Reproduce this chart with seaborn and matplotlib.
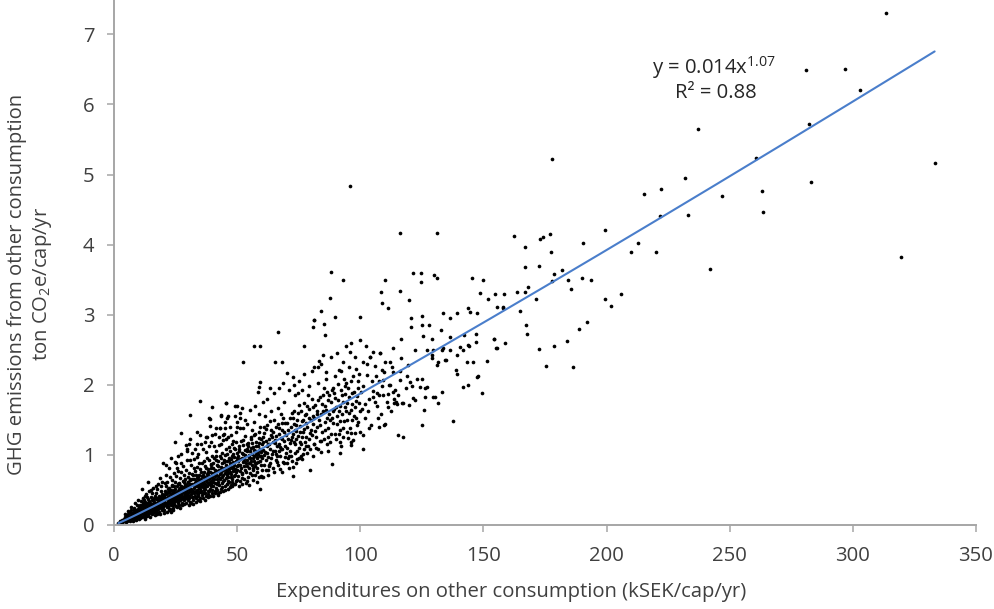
import numpy as np
import pandas as pd
import matplotlib
matplotlib.use("Agg")
import matplotlib.pyplot as plt
import seaborn as sns

# Points: (expenditure kSEK/cap/yr, emissions ton CO2e/cap/yr)
# dense cloud, grouped by expenditure band
band_00_10 = [
    (1.8, 0.03), (2.2, 0.02), (2.5, 0.05), (2.9, 0.04), (3.1, 0.07), (3.4, 0.03), (3.6, 0.06), (3.9, 0.09), (4.1, 0.05), (4.3, 0.11),
    (4.6, 0.07), (4.8, 0.04), (5.0, 0.09), (5.2, 0.13), (5.4, 0.06), (5.6, 0.10), (5.8, 0.15), (6.0, 0.08), (6.1, 0.12), (6.3, 0.18),
    (6.5, 0.07), (6.6, 0.11), (6.8, 0.14), (7.0, 0.09), (7.1, 0.21), (7.3, 0.12), (7.5, 0.16), (7.6, 0.08), (7.8, 0.13), (8.0, 0.19),
    (8.1, 0.10), (8.3, 0.24), (8.4, 0.15), (8.6, 0.12), (8.8, 0.17), (8.9, 0.09), (9.1, 0.21), (9.2, 0.14), (9.4, 0.28), (9.5, 0.11),
    (9.7, 0.18), (9.8, 0.15), (9.9, 0.23), (6.9, 0.26), (5.5, 0.20), (4.4, 0.16), (8.5, 0.31), (9.6, 0.36), (7.9, 0.05), (9.0, 0.07),
    (5.35, 0.11), (6.45, 0.05), (7.25, 0.17), (8.15, 0.22), (8.95, 0.13), (9.35, 0.19),
]
band_10_20 = [
    (10.1, 0.13), (10.2, 0.21), (10.4, 0.17), (10.5, 0.29), (10.6, 0.10), (10.8, 0.19), (10.9, 0.24), (11.0, 0.15), (11.1, 0.34), (11.3, 0.20),
    (11.4, 0.12), (11.5, 0.26), (11.7, 0.18), (11.8, 0.39), (11.9, 0.22), (12.0, 0.14), (12.1, 0.29), (12.3, 0.19), (12.4, 0.25), (12.5, 0.11),
    (12.6, 0.33), (12.8, 0.21), (12.9, 0.16), (13.0, 0.27), (13.1, 0.44), (13.3, 0.23), (13.4, 0.18), (13.5, 0.31), (13.7, 0.14), (13.8, 0.25),
    (13.9, 0.37), (14.0, 0.21), (14.2, 0.28), (14.3, 0.17), (14.4, 0.48), (14.5, 0.24), (14.7, 0.32), (14.8, 0.19), (14.9, 0.27), (15.0, 0.40),
    (15.1, 0.22), (15.3, 0.15), (15.4, 0.30), (15.5, 0.25), (15.7, 0.36), (15.8, 0.20), (15.9, 0.53), (16.0, 0.28), (16.1, 0.23), (16.3, 0.33),
    (16.4, 0.18), (16.5, 0.41), (16.7, 0.26), (16.8, 0.30), (16.9, 0.21), (17.0, 0.37), (17.2, 0.45), (17.3, 0.25), (17.4, 0.16), (17.5, 0.32),
    (17.7, 0.28), (17.8, 0.58), (17.9, 0.23), (18.0, 0.35), (18.2, 0.30), (18.3, 0.42), (18.4, 0.19), (18.6, 0.27), (18.7, 0.38), (18.8, 0.33),
    (18.9, 0.48), (19.0, 0.24), (19.2, 0.36), (19.3, 0.29), (19.4, 0.21), (19.5, 0.44), (19.7, 0.31), (19.8, 0.39), (19.9, 0.26), (19.6, 0.62),
    (10.3, 0.08), (12.7, 0.09), (14.6, 0.12), (16.6, 0.14), (18.5, 0.16), (11.6, 0.31), (13.6, 0.40), (15.6, 0.46), (17.6, 0.51), (19.1, 0.55),
    (11.2, 0.25), (12.2, 0.35), (13.2, 0.13), (14.1, 0.34), (15.2, 0.18), (16.2, 0.38), (17.1, 0.20), (18.1, 0.25), (19.9, 0.34), (16.9, 0.29),
    (11.2, 0.52), (13.9, 0.62), (20.0, 0.89),
    (10.25, 0.26), (10.75, 0.14), (11.35, 0.28), (11.85, 0.17), (12.35, 0.23), (12.95, 0.30), (13.45, 0.21), (13.95, 0.16), (14.45, 0.29),
    (14.95, 0.22), (15.45, 0.35), (15.95, 0.24), (16.45, 0.31), (16.95, 0.19), (17.45, 0.39), (17.95, 0.27), (18.45, 0.34), (18.95, 0.29),
    (19.45, 0.41), (19.85, 0.22), (12.65, 0.41), (15.05, 0.50), (17.05, 0.56), (18.75, 0.67),
]
band_20_30 = [
    (20.1, 0.28), (20.2, 0.41), (20.4, 0.33), (20.5, 0.22), (20.6, 0.49), (20.8, 0.37), (20.9, 0.29), (21.0, 0.56), (21.1, 0.31), (21.3, 0.44),
    (21.4, 0.25), (21.5, 0.38), (21.7, 0.62), (21.8, 0.34), (21.9, 0.47), (22.0, 0.27), (22.1, 0.40), (22.3, 0.53), (22.4, 0.36), (22.5, 0.21),
    (22.6, 0.45), (22.8, 0.31), (22.9, 0.68), (23.0, 0.39), (23.1, 0.50), (23.3, 0.28), (23.4, 0.43), (23.5, 0.35), (23.7, 0.57), (23.8, 0.40),
    (23.9, 0.24), (24.0, 0.48), (24.2, 0.37), (24.3, 0.74), (24.4, 0.44), (24.5, 0.30), (24.7, 0.52), (24.8, 0.41), (24.9, 0.61), (25.0, 0.35),
    (25.1, 0.46), (25.3, 0.27), (25.4, 0.55), (25.5, 0.42), (25.7, 0.81), (25.8, 0.38), (25.9, 0.49), (26.0, 0.33), (26.2, 0.60), (26.3, 0.45),
    (26.4, 0.52), (26.5, 0.29), (26.7, 0.41), (26.8, 0.67), (26.9, 0.48), (27.0, 0.36), (27.2, 0.56), (27.3, 0.44), (27.4, 0.88), (27.5, 0.50),
    (27.7, 0.31), (27.8, 0.47), (27.9, 0.63), (28.0, 0.40), (28.2, 0.54), (28.3, 0.45), (28.4, 0.72), (28.6, 0.35), (28.7, 0.59), (28.8, 0.49),
    (28.9, 0.42), (29.0, 0.66), (29.2, 0.53), (29.3, 0.38), (29.4, 0.78), (29.5, 0.47), (29.7, 0.57), (29.8, 0.43), (29.9, 0.61), (29.6, 0.93),
    (20.3, 0.17), (21.6, 0.19), (22.7, 0.23), (24.1, 0.21), (25.6, 0.25), (26.6, 0.24), (27.6, 0.28), (28.5, 0.30), (29.1, 0.32), (23.2, 0.19),
    (20.7, 0.60), (21.2, 0.72), (22.2, 0.82), (23.6, 0.64), (24.6, 0.90), (25.2, 0.70), (26.1, 0.77), (27.1, 1.02), (28.1, 0.84), (29.7, 1.08),
    (20.9, 0.38), (21.9, 0.31), (22.6, 0.38), (23.8, 0.46), (24.8, 0.34), (25.9, 0.43), (26.9, 0.39), (27.9, 0.51), (28.7, 0.41), (29.4, 0.50),
    (21.4, 0.45), (22.4, 0.49), (23.4, 0.33), (24.4, 0.56), (25.5, 0.47), (26.5, 0.58), (27.5, 0.42), (28.5, 0.61), (29.5, 0.39), (26.0, 0.99),
    (24.8, 1.19), (27.2, 1.31), (29.8, 1.05),
    (20.35, 0.36), (20.85, 0.44), (21.35, 0.29), (21.85, 0.51), (22.35, 0.42), (22.85, 0.35), (23.35, 0.55), (23.85, 0.32), (24.35, 0.50),
    (24.85, 0.46), (25.35, 0.38), (25.85, 0.58), (26.35, 0.36), (26.85, 0.53), (27.35, 0.47), (27.85, 0.39), (28.35, 0.63), (28.85, 0.55),
    (29.35, 0.44), (29.85, 0.69), (21.05, 0.86), (23.05, 0.95), (25.05, 0.88), (27.05, 0.76), (29.05, 1.14),
    (22.05, 0.26), (24.05, 0.28), (26.05, 0.31), (28.05, 0.37),
]
band_30_40 = [
    (30.1, 0.45), (30.2, 0.62), (30.4, 0.38), (30.5, 0.55), (30.6, 0.74), (30.8, 0.49), (30.9, 0.33), (31.0, 0.58), (31.2, 0.44), (31.3, 0.86),
    (31.4, 0.52), (31.5, 0.40), (31.7, 0.66), (31.8, 0.47), (31.9, 0.57), (32.0, 0.36), (32.2, 0.71), (32.3, 0.53), (32.4, 0.45), (32.6, 0.94),
    (32.7, 0.60), (32.8, 0.41), (32.9, 0.55), (33.0, 0.77), (33.2, 0.49), (33.3, 0.63), (33.4, 0.38), (33.6, 0.56), (33.7, 0.83), (33.8, 0.50),
    (33.9, 0.67), (34.0, 0.44), (34.2, 0.59), (34.3, 1.01), (34.4, 0.53), (34.5, 0.72), (34.7, 0.47), (34.8, 0.61), (34.9, 0.39), (35.0, 0.80),
    (35.2, 0.56), (35.3, 0.66), (35.4, 0.49), (35.6, 0.89), (35.7, 0.58), (35.8, 0.43), (35.9, 0.70), (36.0, 0.54), (36.2, 0.63), (36.3, 1.08),
    (36.4, 0.50), (36.6, 0.75), (36.7, 0.60), (36.8, 0.45), (36.9, 0.68), (37.0, 0.84), (37.2, 0.57), (37.3, 0.64), (37.4, 0.41), (37.6, 0.73),
    (37.7, 0.55), (37.8, 0.95), (37.9, 0.62), (38.0, 0.48), (38.2, 0.69), (38.3, 0.80), (38.4, 0.58), (38.6, 0.65), (38.7, 1.12), (38.8, 0.52),
    (38.9, 0.76), (39.0, 0.61), (39.2, 0.87), (39.3, 0.55), (39.4, 0.70), (39.6, 0.46), (39.7, 0.99), (39.8, 0.64), (39.9, 0.74), (39.5, 0.58),
    (30.3, 0.28), (31.1, 0.31), (32.1, 0.30), (33.1, 0.33), (34.1, 0.35), (35.1, 0.34), (36.1, 0.38), (37.1, 0.36), (38.1, 0.40), (39.1, 0.42),
    (30.7, 0.93), (31.6, 1.03), (32.5, 0.82), (33.5, 0.97), (34.6, 0.88), (35.5, 1.15), (36.5, 0.92), (37.5, 1.04), (38.5, 0.93), (39.5, 1.18),
    (30.0, 0.51), (31.0, 0.64), (32.0, 0.49), (33.0, 0.60), (34.0, 0.68), (35.0, 0.61), (36.0, 0.71), (37.0, 0.52), (38.0, 0.75), (39.0, 0.68),
    (30.5, 0.42), (31.5, 0.59), (32.5, 0.66), (33.5, 0.46), (34.5, 0.57), (35.5, 0.47), (36.5, 0.56), (37.5, 0.64), (38.5, 0.49), (39.5, 0.81),
    (30.9, 1.57), (35.0, 1.77), (39.7, 1.69), (30.5, 1.16), (33.8, 1.16), (33.6, 1.32), (37.4, 1.26), (39.7, 1.28), (38.6, 1.52),
    (39.0, 1.51), (37.6, 1.25),
    (30.35, 0.52), (30.85, 0.66), (31.35, 0.48), (31.85, 0.73), (32.35, 0.58), (32.85, 0.47), (33.35, 0.71), (33.85, 0.59), (34.35, 0.64),
    (34.85, 0.52), (35.35, 0.76), (35.85, 0.62), (36.35, 0.69), (36.85, 0.55), (37.35, 0.81), (37.85, 0.67), (38.35, 0.72), (38.85, 0.60),
    (39.35, 0.86), (39.85, 0.69), (31.05, 1.22), (33.05, 1.09), (35.05, 1.29), (37.05, 1.18), (39.05, 1.41),
    (30.05, 0.36), (32.05, 0.40), (34.05, 0.42), (36.05, 0.46), (38.05, 0.44), (39.95, 0.50),
]
band_40_50 = [
    (40.1, 0.62), (40.2, 0.81), (40.4, 0.55), (40.5, 0.74), (40.6, 0.95), (40.8, 0.66), (40.9, 0.48), (41.0, 0.78), (41.2, 0.60), (41.3, 1.06),
    (41.4, 0.71), (41.5, 0.53), (41.7, 0.86), (41.8, 0.65), (41.9, 0.77), (42.0, 0.50), (42.2, 0.92), (42.3, 0.70), (42.4, 0.61), (42.6, 1.14),
    (42.7, 0.79), (42.8, 0.57), (42.9, 0.73), (43.0, 0.98), (43.2, 0.66), (43.3, 0.83), (43.4, 0.52), (43.6, 0.75), (43.7, 1.03), (43.8, 0.68),
    (43.9, 0.88), (44.0, 0.60), (44.2, 0.78), (44.3, 1.21), (44.4, 0.71), (44.5, 0.93), (44.7, 0.64), (44.8, 0.81), (44.9, 0.55), (45.0, 1.00),
    (45.2, 0.74), (45.3, 0.86), (45.4, 0.67), (45.6, 1.09), (45.7, 0.77), (45.8, 0.59), (45.9, 0.91), (46.0, 0.72), (46.2, 0.83), (46.3, 0.63),
    (46.4, 0.69), (46.6, 0.96), (46.7, 0.80), (46.8, 0.61), (46.9, 0.88), (47.0, 1.05), (47.2, 0.75), (47.3, 0.84), (47.4, 0.57), (47.6, 0.94),
    (47.7, 0.73), (47.8, 1.16), (47.9, 0.82), (48.0, 0.65), (48.2, 0.90), (48.3, 1.01), (48.4, 0.77), (48.6, 0.85), (48.7, 0.58), (48.8, 0.70),
    (48.9, 0.97), (49.0, 0.80), (49.2, 1.08), (49.3, 0.72), (49.4, 0.91), (49.6, 0.63), (49.7, 1.19), (49.8, 0.84), (49.9, 0.95), (49.5, 0.76),
    (40.3, 0.42), (41.1, 0.45), (42.1, 0.43), (43.1, 0.47), (44.1, 0.49), (45.1, 0.50), (46.1, 0.52), (47.1, 0.54), (48.1, 0.56), (49.1, 0.59),
    (40.7, 1.12), (41.6, 0.98), (42.5, 1.25), (43.5, 1.15), (44.6, 1.30), (45.5, 1.22), (46.5, 1.11), (47.5, 1.28), (48.5, 1.20), (49.5, 1.33),
    (45.3, 1.74), (49.8, 1.70), (43.4, 1.57), (46.4, 1.55), (49.8, 1.47), (41.4, 1.39), (45.1, 1.38), (44.1, 1.28), (46.4, 1.26),
    (45.5, 1.74), (49.1, 1.70), (45.7, 1.53), (43.0, 1.39), (43.4, 1.55),
    (40.35, 0.88), (40.85, 0.70), (41.35, 0.93), (41.85, 0.58), (42.35, 0.84), (42.85, 0.67), (43.35, 0.96), (43.85, 0.78), (44.35, 0.63),
    (44.85, 0.90), (45.35, 0.79), (45.85, 1.02), (46.35, 0.74), (46.85, 0.93), (47.35, 0.68), (47.85, 0.99), (48.35, 0.83), (48.85, 1.10),
    (49.35, 0.78), (49.85, 1.03), (41.05, 1.30), (43.05, 1.38), (45.05, 1.47), (47.05, 1.40), (49.05, 1.55),
    (42.05, 0.45), (44.05, 0.54), (46.05, 0.58), (48.05, 0.62),
]
band_50_60 = [
    (50.1, 0.78), (50.3, 0.98), (50.5, 0.70), (50.7, 1.12), (50.9, 0.86), (51.1, 0.63), (51.3, 0.94), (51.5, 1.20), (51.7, 0.81), (51.9, 1.03),
    (52.1, 0.73), (52.3, 0.90), (52.5, 1.14), (52.7, 0.84), (52.9, 0.66), (53.1, 1.00), (53.3, 1.27), (53.5, 0.88), (53.7, 0.76), (53.9, 1.08),
    (54.1, 0.93), (54.3, 0.69), (54.5, 1.17), (54.7, 0.97), (54.9, 0.82), (55.1, 1.05), (55.3, 0.74), (55.5, 1.22), (55.7, 0.91), (55.9, 1.35),
    (56.1, 0.86), (56.3, 1.11), (56.5, 0.78), (56.7, 0.99), (56.9, 1.28), (57.1, 0.89), (57.3, 0.72), (57.5, 1.06), (57.7, 1.18), (57.9, 0.95),
    (58.1, 0.81), (58.3, 1.13), (58.5, 1.02), (58.7, 0.68), (58.9, 1.24), (59.1, 0.92), (59.3, 1.40), (59.5, 1.04), (59.7, 0.85), (59.9, 1.15),
    (50.6, 0.55), (52.0, 0.58), (53.6, 0.60), (55.0, 0.57), (56.6, 0.64), (58.0, 0.62), (59.6, 0.70), (54.0, 1.44), (57.0, 1.47), (51.0, 1.38),
    (50.2, 0.92), (51.2, 0.85), (52.2, 1.01), (53.2, 0.79), (54.2, 1.06), (55.2, 0.95), (56.2, 1.02), (57.2, 0.84), (58.2, 0.97), (59.2, 1.09),
    (50.8, 1.05), (51.8, 0.74), (52.8, 0.95), (53.8, 1.15), (54.8, 0.88), (55.8, 1.10), (56.8, 0.92), (57.8, 1.01), (58.8, 1.17), (59.8, 0.98),
    (50.0, 1.40), (52.2, 1.39), (51.2, 1.52), (52.1, 1.67), (59.3, 0.52), (58.9, 1.97), (58.6, 1.90), (59.3, 2.04),
    (50.35, 0.85), (50.85, 1.09), (51.35, 0.77), (51.85, 0.96), (52.35, 1.21), (52.85, 0.91), (53.35, 1.07), (53.85, 0.84), (54.35, 1.12),
    (54.85, 1.00), (55.35, 0.89), (55.85, 1.17), (56.35, 0.95), (56.85, 1.07), (57.35, 1.30), (57.85, 0.88), (58.35, 1.05), (58.85, 1.33),
    (59.35, 0.98), (59.85, 1.22), (51.05, 1.60), (53.05, 1.50), (55.05, 1.64), (57.05, 1.70), (59.05, 1.58),
    (50.05, 0.64), (52.05, 0.67), (54.05, 0.63), (56.05, 0.72), (58.05, 0.76), (59.95, 0.78),
]
band_60_70 = [
    (60.2, 0.95), (60.5, 1.18), (60.8, 0.86), (61.1, 1.31), (61.4, 1.04), (61.7, 0.79), (62.0, 1.12), (62.3, 1.42), (62.6, 0.97), (62.9, 1.22),
    (63.2, 0.88), (63.5, 1.08), (63.8, 1.35), (64.1, 1.01), (64.4, 0.82), (64.7, 1.19), (65.0, 1.50), (65.3, 1.06), (65.6, 0.93), (65.9, 1.27),
    (66.2, 1.12), (66.5, 0.85), (66.8, 1.38), (67.1, 1.16), (67.4, 0.98), (67.7, 1.24), (68.0, 1.58), (68.3, 1.09), (68.6, 0.90), (68.9, 1.33),
    (69.2, 1.20), (69.5, 1.45), (69.8, 1.03), (60.0, 0.68), (62.5, 0.72), (64.9, 0.76), (67.5, 0.80), (61.5, 1.55), (63.9, 1.62), (66.4, 1.67),
    (60.6, 1.07), (61.9, 0.93), (63.0, 1.16), (64.3, 1.26), (65.5, 1.17), (66.9, 1.05), (68.1, 1.23), (69.4, 1.12), (62.2, 1.03), (67.0, 1.30),
    (60.4, 1.76), (60.6, 0.69), (68.1, 0.76),
    (60.35, 1.25), (61.05, 1.00), (61.75, 1.37), (62.45, 1.15), (63.15, 1.48), (63.85, 0.95), (64.55, 1.32), (65.25, 1.21), (65.95, 1.02),
    (66.65, 1.44), (67.35, 1.11), (68.05, 1.36), (68.75, 1.52), (69.45, 0.97), (62.05, 1.80), (65.05, 1.88), (67.05, 1.95), (69.05, 1.75),
    (63.05, 0.86), (66.05, 0.90), (69.05, 0.88),
]
band_70_80 = [
    (70.3, 1.10), (70.7, 1.36), (71.1, 0.98), (71.5, 1.52), (71.9, 1.21), (72.3, 0.92), (72.7, 1.30), (73.1, 1.62), (73.5, 1.15), (73.9, 1.42),
    (74.3, 1.05), (74.7, 1.27), (75.1, 1.71), (75.5, 1.19), (75.9, 0.99), (76.3, 1.48), (76.7, 1.33), (77.1, 1.08), (77.5, 1.57), (77.9, 1.25),
    (78.3, 1.40), (78.7, 1.12), (79.1, 1.65), (79.5, 1.31), (79.9, 1.50), (70.9, 0.82), (73.7, 0.88), (76.5, 0.94), (78.9, 1.85), (74.9, 1.88),
    (71.3, 1.17), (72.9, 1.44), (74.1, 1.34), (75.7, 1.41), (77.3, 1.37), (78.1, 1.58), (79.3, 1.22), (72.1, 1.25), (76.1, 1.15), (73.3, 1.03),
    (70.4, 2.17), (72.8, 2.11), (74.2, 0.94), (72.8, 0.83), (72.5, 0.70), (79.6, 0.79),
    (70.15, 1.45), (70.85, 1.23), (71.55, 1.05), (72.25, 1.60), (72.95, 1.18), (73.65, 1.35), (74.35, 1.50), (75.05, 1.10), (75.75, 1.62),
    (76.45, 1.26), (77.15, 1.74), (77.85, 1.45), (78.55, 1.03), (79.25, 1.52), (79.95, 1.36), (71.05, 1.92), (73.05, 2.00), (75.05, 2.06),
    (77.05, 2.15), (79.05, 1.98), (72.05, 0.98), (75.05, 0.95), (78.05, 1.12),
]
band_80_90 = [
    (80.3, 1.28), (80.8, 1.56), (81.3, 1.15), (81.8, 1.71), (82.3, 1.40), (82.8, 1.09), (83.3, 1.50), (83.8, 1.82), (84.3, 1.33), (84.8, 1.62),
    (85.3, 1.22), (85.8, 1.47), (86.3, 1.90), (86.8, 1.38), (87.3, 1.58), (87.8, 1.19), (88.3, 1.75), (88.8, 1.45), (89.3, 1.66), (89.8, 1.30),
    (81.0, 0.99), (84.0, 1.04), (87.0, 1.06), (83.0, 2.02), (86.0, 2.08), (89.0, 1.96), (80.6, 1.44), (82.6, 1.59), (85.6, 1.70), (88.6, 1.53),
    (83.2, 2.34), (83.0, 2.26), (80.5, 2.19), (88.4, 0.87), (89.7, 2.12), (81.3, 2.92),
    (80.65, 1.68), (81.35, 1.52), (82.05, 1.25), (82.75, 1.78), (83.45, 1.43), (84.15, 1.58), (84.85, 1.85), (85.55, 1.35), (86.25, 1.64),
    (86.95, 1.78), (87.65, 1.50), (88.35, 1.92), (89.05, 1.62), (89.75, 1.81), (81.05, 2.25), (84.05, 2.30), (86.05, 2.18), (88.05, 2.40),
    (81.05, 1.15), (84.05, 1.20), (87.05, 1.26),
]
band_90_115 = [
    (90.4, 1.44), (90.9, 1.78), (91.5, 1.30), (92.0, 1.92), (92.6, 1.58), (93.1, 1.25), (93.7, 1.69), (94.2, 2.03), (94.8, 1.50), (95.3, 1.82),
    (95.9, 1.38), (96.4, 1.64), (97.0, 2.12), (97.5, 1.55), (98.1, 1.77), (98.6, 1.42), (99.2, 1.96), (99.7, 1.62), (92.3, 2.20), (95.6, 2.25),
    (91.2, 1.62), (93.9, 1.87), (96.8, 1.88), (98.9, 2.05), (94.5, 1.33),
    (100.5, 1.65), (101.3, 1.98), (102.1, 1.52), (102.9, 2.14), (103.7, 1.80), (104.5, 1.43), (105.3, 1.91), (106.1, 2.27), (106.9, 1.70), (107.7, 2.05),
    (108.5, 1.58), (109.3, 1.86), (110.1, 2.33), (110.9, 1.75), (111.7, 2.00), (112.5, 1.63), (113.3, 2.18), (114.1, 1.92), (104.0, 2.40), (108.0, 2.46),
    (91.8, 1.03), (101.2, 1.08), (96.1, 1.19), (91.8, 1.19), (101.0, 1.28), (91.8, 1.36), (97.2, 1.21), (97.8, 1.31), (96.2, 1.14),
    (115.4, 1.29), (117.5, 1.26), (109.7, 1.43), (113.5, 1.74), (120.9, 1.98), (124.2, 1.97), (127.0, 1.97), (111.4, 1.87),
    (106.7, 1.88), (114.5, 1.75), (133.0, 1.90),
    (90.45, 1.55), (91.15, 2.01), (91.85, 1.70), (92.55, 1.85), (93.25, 1.48), (93.95, 1.99), (94.65, 1.74), (95.35, 1.60), (96.05, 2.05),
    (96.75, 1.72), (97.45, 1.90), (98.15, 1.53), (98.85, 1.84), (99.55, 2.15), (90.05, 1.22), (93.05, 1.38), (96.05, 1.31), (99.05, 1.47),
]
# extra points where the reference band around the line is solid black (x 55-120)
band_55_120_fill = [
    (55.6, 1.25), (56.4, 0.82), (57.6, 1.12), (58.4, 0.90), (60.9, 1.40), (61.6, 1.20), (62.8, 0.84), (63.6, 1.28), (64.6, 1.05), (65.8, 1.40),
    (66.1, 0.98), (67.8, 1.08), (68.4, 1.45), (69.7, 1.28), (70.6, 0.96), (71.8, 1.40), (72.6, 1.52), (73.8, 1.22), (74.6, 1.60), (75.4, 1.32),
    (76.8, 1.50), (77.6, 1.18), (78.4, 1.70), (79.7, 1.08), (80.2, 1.80), (81.6, 1.34), (82.4, 1.62), (83.6, 1.20), (84.6, 1.72), (85.2, 1.95),
    (86.6, 1.52), (87.4, 1.85), (88.2, 1.30), (89.5, 1.88), (90.2, 1.68), (91.6, 1.48), (92.8, 1.76), (93.4, 2.08), (94.4, 1.62), (95.1, 1.95),
    (96.6, 1.50), (97.7, 1.68), (98.4, 2.22), (99.4, 1.74), (100.2, 1.90), (101.8, 1.72), (102.6, 2.30), (103.2, 1.62), (104.8, 2.05), (105.8, 1.76),
    (106.4, 2.12), (107.2, 1.52), (108.8, 1.98), (109.8, 2.18), (111.2, 1.68), (112.8, 2.25), (113.8, 1.80), (116.2, 2.20), (118.4, 1.95), (119.4, 2.28),
    (63.3, 1.95), (68.6, 2.02), (73.6, 1.85), (76.2, 1.92), (85.0, 2.42), (90.6, 2.45), (94.0, 2.55), (102.4, 2.55),
    (62.7, 0.78), (70.4, 0.88), (76.9, 1.02), (82.2, 1.10), (86.4, 1.16), (92.2, 1.12), (95.2, 1.24), (99.8, 1.32), (103.6, 1.38), (107.4, 1.40),
]
# sparse points above / right of the cloud
mid_scatter = [
    (99.9, 2.64), (95.8, 2.47), (97.8, 2.39), (101.2, 2.33), (103.9, 2.39), (93.1, 2.33), (91.5, 2.21), (96.1, 2.60),
    (105.3, 2.47), (108.0, 2.45), (112.0, 2.33), (116.5, 2.38), (113.2, 2.53), (116.1, 2.07),
    (108.7, 2.21), (109.4, 2.07), (112.1, 2.00), (113.4, 1.90), (115.4, 1.85), (107.7, 1.85), (105.3, 1.83),
    (118.8, 2.12), (123.2, 2.08), (125.0, 2.09), (120.2, 2.04), (126.3, 1.95), (130.3, 1.83), (122.2, 1.78), (116.8, 1.74),
    (122.2, 2.50), (127.0, 2.50), (129.6, 2.50), (133.7, 2.53), (139.1, 2.43), (141.8, 2.49), (144.0, 2.55), (147.0, 2.61),
    (151.3, 2.34), (154.3, 2.65), (155.0, 2.52), (138.9, 2.21), (139.4, 2.16), (141.8, 1.97), (143.6, 2.00), (147.2, 2.11),
    (149.3, 1.88), (129.0, 2.43), (131.7, 2.33), (134.4, 2.35),
    (116.5, 2.66), (125.6, 2.69), (129.2, 2.65), (132.8, 2.78), (136.4, 2.68), (142.2, 2.71), (147.0, 2.73), (154.4, 2.65),
    (158.7, 2.59), (155.4, 2.53), (172.4, 2.51), (175.3, 2.27), (145.9, 2.32), (143.2, 2.33), (147.9, 2.12),
    (137.5, 1.49), (125.0, 1.43), (125.9, 1.64), (131.7, 1.74), (129.6, 1.83), (126.3, 1.82), (121.5, 1.81), (119.8, 1.71),
    (117.5, 1.74), (114.8, 1.73), (110.0, 1.44), (135.0, 2.35), (131.0, 2.28), (129.0, 2.38), (133.0, 2.50), (136.4, 2.50),
    (140.5, 2.54), (143.9, 2.57), (178.5, 2.55), (186.5, 2.26), (184.0, 2.62),
    (88.1, 3.61), (121.4, 3.60), (124.6, 3.59), (129.9, 3.56), (131.0, 3.53), (93.1, 3.49), (110.0, 3.49), (124.6, 3.46),
    (145.5, 3.53), (150.0, 3.50), (108.4, 3.32), (116.0, 3.34), (148.6, 3.31), (154.7, 3.30), (87.8, 3.24), (119.8, 3.21),
    (108.7, 3.17), (151.7, 3.23), (111.2, 3.10), (84.2, 3.06), (89.9, 2.97), (99.9, 2.97), (81.2, 2.93), (85.3, 2.87),
    (80.7, 2.82), (120.5, 2.96), (124.9, 2.98), (125.2, 2.86), (127.8, 2.85), (120.5, 2.82), (133.7, 3.03), (136.4, 2.95),
    (139.1, 3.02), (143.9, 3.09), (144.5, 3.04), (147.4, 3.03), (155.4, 3.11), (158.0, 3.09), (167.5, 2.72), (85.8, 2.71),
    (66.7, 2.76), (56.8, 2.56), (59.3, 2.56), (77.3, 2.55), (52.4, 2.32), (65.4, 2.32), (68.1, 2.32), (116.2, 4.17), (131.1, 4.17),
]
high_scatter = [
    (313.3, 7.31), (281.0, 6.49), (297.0, 6.50), (303.0, 6.21), (282.0, 5.72), (237.0, 5.65), (260.5, 5.24), (333.2, 5.16),
    (232.0, 4.95), (283.0, 4.90), (222.0, 4.79), (215.0, 4.72), (263.0, 4.76), (247.0, 4.69), (221.7, 4.41), (233.0, 4.42),
    (263.4, 4.46), (319.5, 3.83), (242.0, 3.65), (95.8, 4.84), (178.0, 5.22),
    (199.5, 4.21), (162.5, 4.13), (173.0, 4.08), (174.0, 4.11), (177.0, 4.15), (167.0, 3.97), (190.5, 4.03), (177.5, 3.89),
    (210.0, 3.90), (212.7, 4.03), (220.0, 3.90), (167.0, 3.68), (172.4, 3.70), (182.0, 3.64), (178.5, 3.58), (178.0, 3.48),
    (184.5, 3.50), (190.0, 3.52), (193.5, 3.50), (185.5, 3.37), (168.0, 3.39), (166.7, 3.32), (163.5, 3.33), (158.3, 3.29),
    (171.3, 3.22), (199.5, 3.22), (206.0, 3.30), (201.6, 3.13), (165.0, 3.05), (157.8, 3.11), (167.4, 2.86), (192.0, 2.89),
    (188.7, 2.80),
]

# power trendline y = a * x^b (label shows it rounded to 0.014 and 1.07)
trend_coef = 0.0139
trend_exp = 1.065
trend_label = "y = 0.014x$^{1.07}$"
r2_label = "R\u00b2 = 0.88"

x_ticks = [0, 50, 100, 150, 200, 250, 300, 350]
y_ticks = [0, 1, 2, 3, 4, 5, 6, 7]
x_title = "Expenditures on other consumption (kSEK/cap/yr)"
y_title = "GHG emissions from other consumption\nton CO$_2$e/cap/yr"

points = (band_00_10 + band_10_20 + band_20_30 + band_30_40 + band_40_50 + band_50_60
          + band_60_70 + band_70_80 + band_80_90 + band_90_115 + band_55_120_fill
          + mid_scatter + high_scatter)
df = pd.DataFrame(points, columns=["expenditure", "emissions"])

x_fit = np.linspace(df["expenditure"].min(), df["expenditure"].max(), 300)
y_fit = trend_coef * x_fit ** trend_exp

sns.set_theme(style="white")
plt.rcParams["font.family"] = ["Open Sans", "DejaVu Sans"]
plt.rcParams["mathtext.fontset"] = "custom"
plt.rcParams["mathtext.rm"] = "Open Sans"
plt.rcParams["mathtext.default"] = "regular"

text_color = "#404040"
axis_color = "#a6a6a6"
font_size = 14.6

fig = plt.figure(figsize=(9.95, 6.09), dpi=100)
ax = fig.add_axes([114 / 995, 84 / 609, 862 / 995, 525 / 609])

sns.scatterplot(data=df, x="expenditure", y="emissions", ax=ax, color="black",
                s=7, linewidth=0, marker="o", zorder=2)
sns.lineplot(x=x_fit, y=y_fit, ax=ax, color="#4a7ecb", linewidth=1.5, zorder=3)

ax.set_xlim(0, 350)
ax.set_ylim(0, 7.49)
ax.set_xticks(x_ticks)
ax.set_yticks(y_ticks)
ax.set_xlabel("")
ax.set_ylabel("")

for side in ["top", "right"]:
    ax.spines[side].set_visible(False)
for side in ["left", "bottom"]:
    ax.spines[side].set_color(axis_color)
    ax.spines[side].set_linewidth(1.4)

ax.tick_params(axis="both", which="both", bottom=True, left=True, direction="out",
               length=5, width=1.1, color=axis_color, labelsize=font_size, labelcolor=text_color)
ax.tick_params(axis="x", pad=10)
ax.tick_params(axis="y", pad=9)

fig.text(511 / 995, 1 - 592 / 609, x_title, ha="center", va="center",
         fontsize=font_size, color=text_color)
fig.text(31 / 995, 1 - 284 / 609, y_title, ha="center", va="center", rotation=90,
         multialignment="center", fontsize=font_size, color=text_color, linespacing=1.25)

ax.text(243.6, 6.53, trend_label, ha="center", va="center", fontsize=font_size, color="#262626")
ax.text(244.4, 6.16, r2_label, ha="center", va="center", fontsize=font_size, color="#262626")

fig.savefig("out.png", dpi=100)
